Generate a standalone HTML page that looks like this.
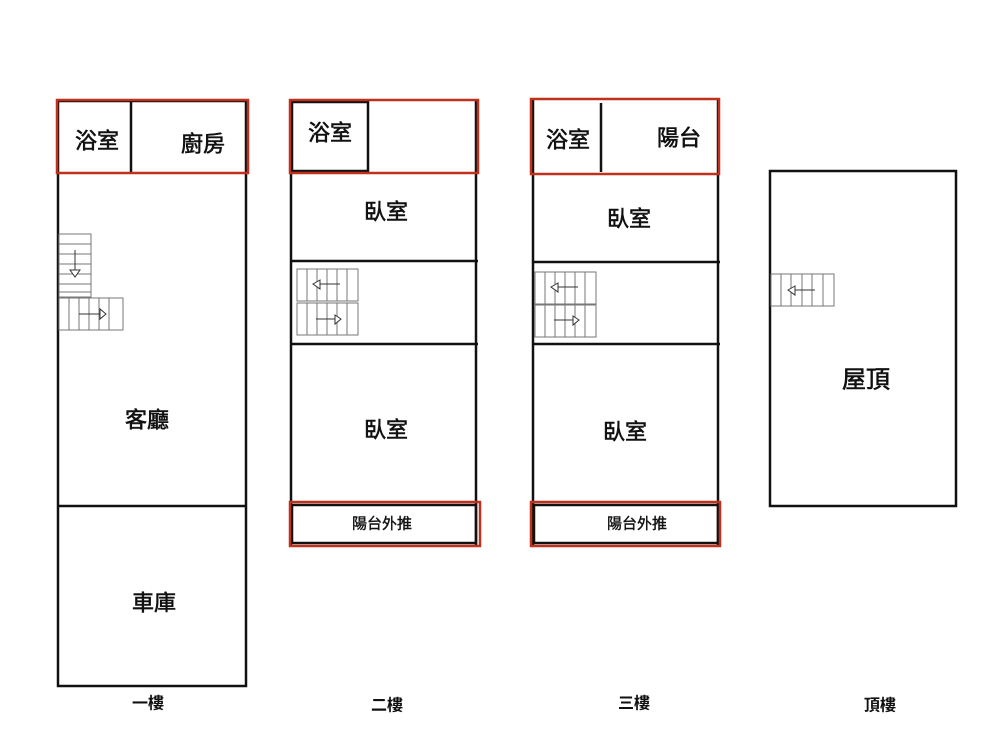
<!DOCTYPE html>
<html><head><meta charset="utf-8"><style>
html,body{margin:0;padding:0;background:#fff;width:1000px;height:750px;overflow:hidden}
svg{display:block}
text{font-family:"Liberation Sans","Noto Sans CJK TC",sans-serif;fill:#111;text-anchor:middle;dominant-baseline:central}
.rl text{stroke:#111;stroke-width:0.6}
</style></head><body>
<svg width="1000" height="750" viewBox="0 0 1000 750" xmlns="http://www.w3.org/2000/svg">
<g fill="none" stroke="#111" stroke-width="2.5">
  <rect x="58" y="101" width="188" height="585"/>
  <line x1="131" y1="101" x2="131" y2="173"/>
  <line x1="58" y1="506" x2="246" y2="506"/>
  <line x1="291" y1="101" x2="291" y2="545"/>
  <line x1="476" y1="101" x2="476" y2="545"/>
  <rect x="292" y="102" width="76" height="69"/>
  <line x1="290" y1="261" x2="478" y2="261"/>
  <line x1="290" y1="344" x2="478" y2="344"/>
  <rect x="292" y="505" width="184" height="38"/>
  <line x1="533" y1="99" x2="533" y2="545"/>
  <line x1="718" y1="99" x2="718" y2="545"/>
  <line x1="601" y1="103" x2="601" y2="172"/>
  <line x1="532" y1="262" x2="720" y2="262"/>
  <line x1="532" y1="344" x2="720" y2="344"/>
  <rect x="534" y="505" width="184" height="38"/>
  <rect x="770" y="171" width="186" height="335"/>
</g>
<g fill="none" stroke="#c0301c" stroke-width="2.5">
  <rect x="57" y="100" width="191" height="73"/>
  <rect x="290" y="100" width="188" height="73"/>
  <rect x="531" y="99" width="188" height="75"/>
  <rect x="290" y="502" width="190" height="44"/>
  <rect x="531" y="502" width="189" height="44"/>
</g>
<g fill="none" stroke="#777" stroke-width="1">
  <rect x="59" y="234" width="32" height="63"/>
  <path d="M59 244H91M59 254H91M59 264H91M59 274H91M59 284H91M59 292H91"/>
  <path d="M75 250V270" stroke="#333"/>
  <path d="M70 270H80L75 277Z" stroke="#333" fill="#fff"/>
  <rect x="59" y="298" width="64" height="32"/>
  <path d="M69 298V330M79 298V330M89 298V330M99 298V330M109 298V330"/>
  <path d="M79 314H100" stroke="#333"/>
  <path d="M100 309V319L106 314Z" stroke="#333" fill="#fff"/>
  <rect x="297" y="269" width="61" height="32"/>
  <rect x="297" y="303" width="61" height="32"/>
  <path d="M307 269V301M317 269V301M327 269V301M337 269V301M347 269V301"/>
  <path d="M307 303V335M317 303V335M327 303V335M337 303V335M347 303V335"/>
  <path d="M320 284H340M316 319H335" stroke="#333"/>
  <path d="M320 280L313 284L320 289Z M335 315V324L341 319Z" stroke="#333" fill="#fff"/>
  <rect x="535" y="272" width="61" height="32"/>
  <rect x="535" y="305" width="61" height="32"/>
  <path d="M545 272V304M555 272V304M565 272V304M575 272V304M585 272V304"/>
  <path d="M545 305V337M555 305V337M565 305V337M575 305V337M585 305V337"/>
  <path d="M558 287H578M554 320H573" stroke="#333"/>
  <path d="M558 283L551 287L558 292Z M573 316V325L579 320Z" stroke="#333" fill="#fff"/>
  <rect x="771" y="274" width="63" height="32"/>
  <path d="M781 274V306M791 274V306M802 274V306M812 274V306M823 274V306"/>
  <path d="M795 290H815" stroke="#333"/>
  <path d="M795 286L788 290L795 295Z" stroke="#333" fill="#fff"/>
</g>
<g font-size="22" class="rl">
  <text x="97" y="141">浴室</text>
  <text x="203" y="144">廚房</text>
  <text x="147" y="420">客廳</text>
  <text x="154" y="603">車庫</text>
  <text x="330" y="133">浴室</text>
  <text x="386" y="212">臥室</text>
  <text x="386" y="430">臥室</text>
  <text x="568" y="140">浴室</text>
  <text x="679" y="138">陽台</text>
  <text x="629" y="219">臥室</text>
  <text x="625" y="432">臥室</text>
  <text x="866" y="380" font-size="24">屋頂</text>
</g>
<g font-size="15" class="rl">
  <text x="382" y="524" style="stroke-width:0.4">陽台外推</text>
  <text x="637" y="524" style="stroke-width:0.4">陽台外推</text>
</g>
<g font-size="16" font-weight="bold">
  <text x="148" y="704">一樓</text>
  <text x="387" y="706">二樓</text>
  <text x="634" y="704">三樓</text>
  <text x="880" y="706">頂樓</text>
</g>
</svg>
</body></html>
